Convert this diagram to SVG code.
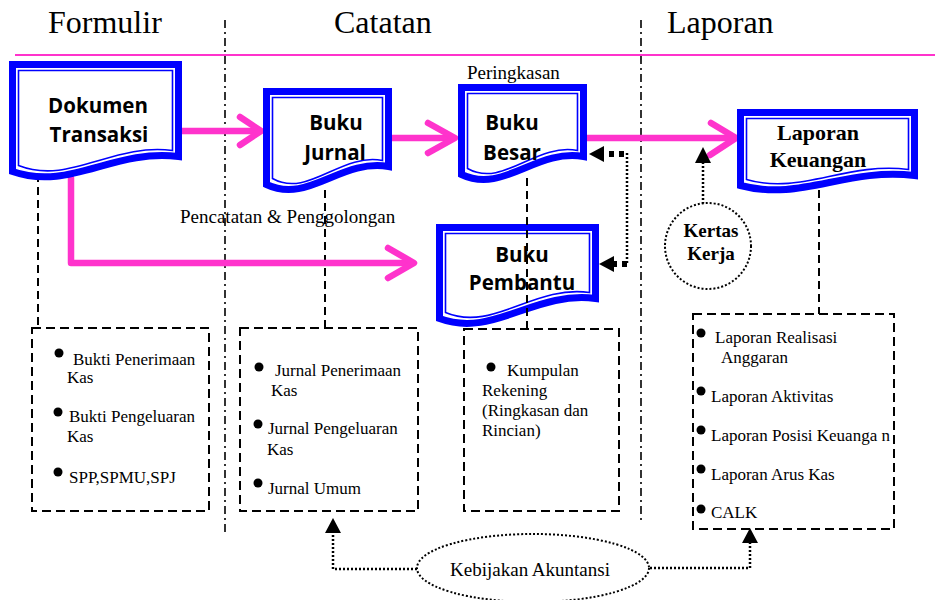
<svg xmlns="http://www.w3.org/2000/svg" width="935" height="600" viewBox="0 0 935 600">
  <defs>
    <style>
      .hdr { font-family: "Liberation Serif", "Times New Roman", serif; font-size: 32px; fill: #000; }
      .lbl { font-family: "Liberation Serif", "Times New Roman", serif; font-size: 19px; fill: #000; }
      .item { font-family: "Liberation Serif", "Times New Roman", serif; font-size: 17px; fill: #000; }
      .doc-txt { font-family: "Open Sans", "DejaVu Sans", sans-serif; font-size: 20.5px; font-weight: bold; fill: #000; text-anchor: middle; }
      .doc-txt-serif { font-family: "Liberation Serif", "Times New Roman", serif; font-size: 22px; font-weight: bold; fill: #000; text-anchor: middle; }
      .doc-outer { fill: #fff; stroke: #0000ff; stroke-width: 7; stroke-linejoin: miter; }
      .doc-inner { fill: none; stroke: #0000ff; stroke-width: 1.6; }
      .flow { fill: none; stroke: #ff33cc; stroke-width: 6.5; stroke-linecap: round; stroke-linejoin: round; }
      .divider { fill: none; stroke: #000; stroke-width: 1.6; stroke-dasharray: 8 4 2 4; }
      .lead { fill: none; stroke: #000; stroke-width: 2; stroke-dasharray: 8 5; }
      .box { fill: none; stroke: #000; stroke-width: 2; stroke-dasharray: 9 5; }
      .dots { fill: none; stroke: #000; stroke-width: 2.5; stroke-dasharray: 2 2; }
      .dots-heavy { fill: none; stroke: #000; stroke-width: 6; stroke-dasharray: 5 5; }
      .bubble { fill: #fff; stroke: #000; stroke-width: 2; stroke-dasharray: 2 2; }
      .bullet { fill: #000; }
      .head { fill: #000; }
    </style>
  </defs>

  <rect width="935" height="600" fill="#fff"/>

  <!-- column headings -->
  <g id="headings">
    <text class="hdr" x="48" y="33">Formulir</text>
    <text class="hdr" x="334" y="33">Catatan</text>
    <text class="hdr" x="667" y="33">Laporan</text>
    <line x1="15" y1="55" x2="935" y2="55" stroke="#ff33cc" stroke-width="2"/>
    <line class="divider" x1="225" y1="20" x2="225" y2="535"/>
    <line class="divider" x1="641" y1="20" x2="641" y2="520"/>
  </g>

  <!-- connectors -->
  <g id="connectors">
    <!-- dashed leads from documents to detail boxes -->
    <line class="lead" x1="38" y1="174" x2="38" y2="328"/>
    <line class="lead" x1="325" y1="190" x2="325" y2="328"/>
    <line class="lead" x1="819" y1="190" x2="819" y2="314"/>

    <!-- main pink flow -->
    <path class="flow" d="M182,131 H259"/>
    <path class="flow" d="M240,117 L261,131 L240,145"/>
    <path class="flow" d="M392,138 H453"/>
    <path class="flow" d="M428,123 L455,138 L428,153"/>
    <path class="flow" d="M587,138 H734"/>
    <path class="flow" d="M711,123 L736,138 L710,155"/>
    <path class="flow" d="M71,178 V263 H412"/>
    <path class="flow" d="M388,248 L414,263 L388,278"/>

    <!-- ledger links back to Buku Besar / Buku Pembantu -->
    <line class="dots" x1="627" y1="153" x2="627" y2="265"/>
    <line class="dots-heavy" x1="624" y1="154" x2="604" y2="154"/>
    <polygon class="head" points="589,154 604,146 604,162"/>
    <line class="dots-heavy" x1="627" y1="264" x2="612" y2="264"/>
    <polygon class="head" points="599,264 614,256 614,272"/>

    <!-- Kertas Kerja to report flow -->
    <line class="dots" x1="703" y1="204" x2="703" y2="162"/>
    <polygon class="head" points="703,147 695,163 711,163"/>

    <!-- Kebijakan Akuntansi links -->
    <path class="dots" d="M417,569 H333 V533"/>
    <polygon class="head" points="333,518 325,533 341,533"/>
    <path class="dots" d="M650,568 H750 V543"/>
    <polygon class="head" points="750,528 742,543 758,543"/>
  </g>

  <!-- documents -->
  <g id="dokumen-transaksi">
    <path class="doc-outer" d="M12.5,64.5 H178.5 V156.5 C112.8,148.5 69.6,191.5 12.5,171.5 Z"/>
    <path class="doc-inner" d="M18.5,70.5 H172.5 V150.5 C112.8,142.5 69.6,185.5 18.5,165.5 Z"/>
    <text class="doc-txt" x="98" y="113">Dokumen</text>
    <text class="doc-txt" x="99" y="142">Transaksi</text>
  </g>

  <g id="buku-jurnal">
    <path class="doc-outer" d="M266.5,91.5 H388.5 V166.5 C340.4,158.5 308.2,204.5 266.5,184.5 Z"/>
    <path class="doc-inner" d="M272.5,97.5 H382.5 V160.5 C340.4,152.5 308.2,198.5 272.5,178.5 Z"/>
    <text class="doc-txt" x="336" y="130">Buku</text>
    <text class="doc-txt" x="335" y="160">Jurnal</text>
  </g>

  <g id="buku-besar">
    <text class="lbl" x="467" y="79">Peringkasan</text>
    <path class="doc-outer" d="M461.5,87.5 H583.5 V156.5 C535.4,148.5 503.2,194.5 461.5,174.5 Z"/>
    <path class="doc-inner" d="M467.5,93.5 H577.5 V150.5 C535.4,142.5 503.2,188.5 467.5,168.5 Z"/>
    <text class="doc-txt" x="512" y="130">Buku</text>
    <text class="doc-txt" x="512" y="160">Besar</text>
  </g>

  <g id="buku-pembantu">
    <path class="doc-outer" d="M439.5,227.5 H595.5 V298.5 C533.8,290.5 493,338.5 439.5,318.5 Z"/>
    <path class="doc-inner" d="M445.5,233.5 H589.5 V292.5 C533.8,284.5 493,332.5 445.5,312.5 Z"/>
    <text class="doc-txt" x="522" y="262">Buku</text>
    <text class="doc-txt" x="522" y="290">Pembantu</text>
    <!-- lead from Buku Besar runs across this sheet -->
    <line class="lead" x1="527" y1="178" x2="527" y2="329"/>
  </g>

  <g id="laporan-keuangan">
    <path class="doc-outer" d="M740.5,112.5 H914.5 V175.5 C845.6,167.5 800.4,201.5 740.5,185.5 Z"/>
    <path class="doc-inner" d="M746.5,118.5 H908.5 V169.5 C845.6,161.5 800.4,195.5 746.5,179.5 Z"/>
    <text class="doc-txt-serif" x="818" y="140">Laporan</text>
    <text class="doc-txt-serif" x="818" y="167">Keuangan</text>
  </g>

  <g id="label-pencatatan">
    <text class="lbl" x="180" y="223">Pencatatan &amp; Penggolongan</text>
  </g>

  <g id="kertas-kerja">
    <circle class="bubble" cx="708" cy="246" r="43"/>
    <text class="lbl" x="711" y="237" font-weight="bold" text-anchor="middle">Kertas</text>
    <text class="lbl" x="711" y="260" font-weight="bold" text-anchor="middle">Kerja</text>
  </g>

  <!-- detail boxes -->
  <g id="box-formulir">
    <rect class="box" x="32" y="328" width="177" height="183"/>
    <circle class="bullet" cx="59" cy="353" r="4.5"/>
    <text class="item" x="73" y="365">Bukti Penerimaan</text>
    <text class="item" x="67" y="383">Kas</text>
    <circle class="bullet" cx="58" cy="412" r="4.5"/>
    <text class="item" x="69" y="422">Bukti Pengeluaran</text>
    <text class="item" x="67" y="442">Kas</text>
    <circle class="bullet" cx="58" cy="472" r="4.5"/>
    <text class="item" x="69" y="483">SPP,SPMU,SPJ</text>
  </g>

  <g id="box-jurnal">
    <rect class="box" x="240" y="328" width="178" height="183"/>
    <circle class="bullet" cx="259" cy="367" r="4.5"/>
    <text class="item" x="275" y="376">Jurnal Penerimaan</text>
    <text class="item" x="271" y="396">Kas</text>
    <circle class="bullet" cx="258" cy="424" r="4.5"/>
    <text class="item" x="268" y="434">Jurnal Pengeluaran</text>
    <text class="item" x="267" y="455">Kas</text>
    <circle class="bullet" cx="258" cy="483" r="4.5"/>
    <text class="item" x="268" y="494">Jurnal Umum</text>
  </g>

  <g id="box-rekening">
    <rect class="box" x="464" y="329" width="155" height="182"/>
    <circle class="bullet" cx="491" cy="367" r="4.5"/>
    <text class="item" x="507" y="376">Kumpulan</text>
    <text class="item" x="482" y="396">Rekening</text>
    <text class="item" x="482" y="416">(Ringkasan dan</text>
    <text class="item" x="482" y="436">Rincian)</text>
  </g>

  <g id="box-laporan">
    <rect class="box" x="693" y="314" width="201" height="215"/>
    <circle class="bullet" cx="701" cy="333" r="4.5"/>
    <text class="item" x="715" y="343">Laporan Realisasi</text>
    <text class="item" x="721" y="363">Anggaran</text>
    <circle class="bullet" cx="701" cy="391" r="4.5"/>
    <text class="item" x="711" y="402">Laporan Aktivitas</text>
    <circle class="bullet" cx="701" cy="430" r="4.5"/>
    <text class="item" x="711" y="441">Laporan Posisi Keuanga n</text>
    <circle class="bullet" cx="701" cy="469" r="4.5"/>
    <text class="item" x="711" y="480">Laporan Arus Kas</text>
    <circle class="bullet" cx="701" cy="509" r="4.5"/>
    <text class="item" x="711" y="518">CALK</text>
  </g>

  <g id="kebijakan-akuntansi">
    <ellipse class="bubble" cx="533" cy="568" rx="116" ry="34"/>
    <text class="lbl" x="530" y="576" font-size="18.5" text-anchor="middle">Kebijakan Akuntansi</text>
  </g>
</svg>
